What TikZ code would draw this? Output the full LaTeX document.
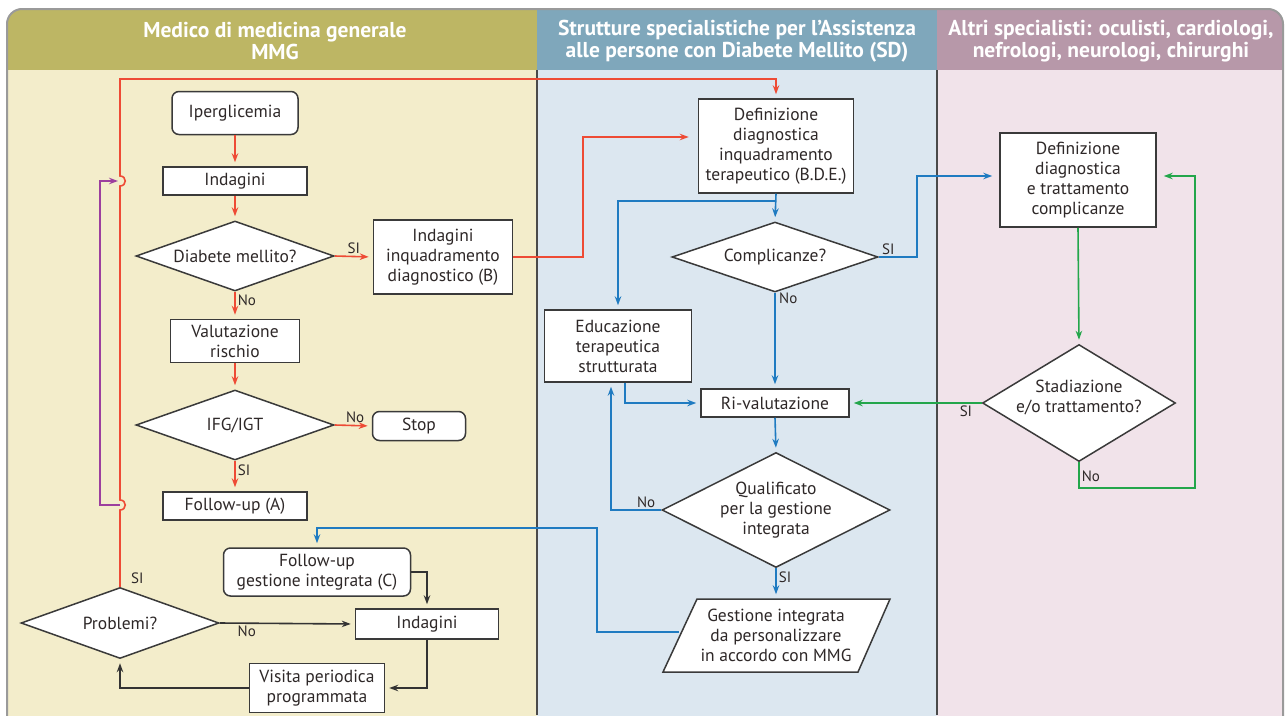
\documentclass[tikz,border=0pt]{standalone}
\usepackage{fontspec}
\setmainfont{PT Sans}
\newfontfamily\hdfont{PT Sans}
\usetikzlibrary{arrows.meta,shapes.geometric,calc}
\definecolor{hdA}{HTML}{BDB664}
\definecolor{bdA}{HTML}{F3EDCB}
\definecolor{hdB}{HTML}{7FA7BB}
\definecolor{bdB}{HTML}{DCE7F0}
\definecolor{hdC}{HTML}{B798A9}
\definecolor{bdC}{HTML}{F1E3EA}
\definecolor{frm}{HTML}{9A9A9A}
\definecolor{dvd}{HTML}{4A4A4A}
\definecolor{bxl}{HTML}{3A3A3A}
\definecolor{txt}{HTML}{2E2828}
\definecolor{lnred}{HTML}{EE4B35}
\definecolor{lnblue}{HTML}{1F7BC1}
\definecolor{lngreen}{HTML}{23A64B}
\definecolor{lnpurp}{HTML}{9C3F9E}
\definecolor{lnblack}{HTML}{333333}
\newcommand\boxfont{\fontsize{17.5}{20}\selectfont}
\newcommand\labfont{\fontsize{15}{17}\selectfont}
\newcommand\hdrfont{\hdfont\bfseries\fontsize{21.5}{22}\selectfont}
\begin{document}
\begin{tikzpicture}[x=1pt,y=-1pt,
  bx/.style={draw=bxl, fill=white, line width=1.5pt, text=txt, align=center, font=\boxfont, inner sep=1pt},
  rbx/.style={bx, rounded corners=7pt},
  dia/.style={diamond, draw=bxl, fill=white, line width=1.5pt, inner sep=0pt},
  dtext/.style={text=txt, align=center, font=\boxfont},
  lab/.style={text=txt, font=\labfont, inner sep=2pt},
  hdr/.style={text=white, align=center, font=\hdrfont},
  arr/.style={line width=1.6pt, -{Stealth[length=9pt,width=6.5pt]}, shorten >=4pt},
  cred/.style={draw=lnred, color=lnred},
  cblue/.style={draw=lnblue, color=lnblue},
  cgreen/.style={draw=lngreen, color=lngreen},
  cpurp/.style={draw=lnpurp, color=lnpurp},
  cblack/.style={draw=lnblack, color=lnblack}
]
\useasboundingbox (0,0) rectangle (1287,715);
% backgrounds
\begin{scope}
\clip[rounded corners=15pt] (7,9) rectangle (1283,760);
\fill[bdA] (7,70) rectangle (537,760);
\fill[bdB] (537,70) rectangle (937,760);
\fill[bdC] (937,70) rectangle (1283,760);
\fill[hdA] (7,9) rectangle (537,70);
\fill[hdB] (537,9) rectangle (937,70);
\fill[hdC] (937,9) rectangle (1283,70);
\end{scope}
\draw[frm, line width=2pt, rounded corners=15pt] (7,760) -- (7,9) -- (1283,9) -- (1283,760);
\draw[dvd, line width=1.6pt] (537,70) -- (537,715);
\draw[dvd, line width=1.6pt] (937,70) -- (937,715);
% headers
\node[hdr] (h1) at (275,41) {Medico di medicina generale\\MMG};
\node[hdr] (h2) at (737,41) {Strutture specialistiche per l’Assistenza\\alle persone con Diabete Mellito (SD)};
\node[hdr] (h3) at (1111,41) {Altri specialisti: oculisti, cardiologi,\\nefrologi, neurologi, chirurghi};
% left column nodes
\node[rbx, minimum width=126pt, minimum height=43pt] (ip) at (235,113) {Iperglicemia};
\node[bx, minimum width=144pt, minimum height=28pt] (ind1) at (235,181) {Indagini};
\node[dia, minimum width=198pt, minimum height=70pt, label={[dtext]center:Diabete mellito?}] (dm) at (235,256) {};
\node[bx, minimum width=139pt, minimum height=74pt] (B) at (443,257) {Indagini\\inquadramento\\diagnostico (B)};
\node[bx, minimum width=129pt, minimum height=43pt] (vr) at (235,341) {Valutazione\\rischio};
\node[dia, minimum width=198pt, minimum height=70pt, label={[dtext]center:IFG/IGT}] (ifg) at (235,425) {};
\node[rbx, minimum width=93pt, minimum height=29pt] (stop) at (419,426) {Stop};
\node[bx, minimum width=144pt, minimum height=28pt] (fa) at (235,506) {Follow-up (A)};
\node[rbx, minimum width=187pt, minimum height=48pt] (fc) at (317,572) {Follow-up\\gestione integrata (C)};
\node[dia, minimum width=198pt, minimum height=71pt, label={[dtext]center:Problemi?}] (pr) at (120,623) {};
\node[bx, minimum width=143pt, minimum height=30pt] (ind2) at (427,624) {Indagini};
\node[bx, minimum width=135pt, minimum height=49pt] (vis) at (317,688) {Visita periodica\\programmata};
% middle column nodes
\node[bx, minimum width=155pt, minimum height=94pt] (def) at (776,146) {Definizione\\diagnostica\\inquadramento\\terapeutico (B.D.E.)};
\node[dia, minimum width=206pt, minimum height=70pt, label={[dtext]center:Complicanze?}] (comp) at (775,257) {};
\node[bx, minimum width=147pt, minimum height=72pt] (edu) at (618,346) {Educazione\\terapeutica\\strutturata};
\node[bx, minimum width=148pt, minimum height=28pt] (rv) at (775,403) {Ri-valutazione};
\node[dia, minimum width=228pt, minimum height=115pt, label={[dtext]center:{Qualificato\\per la gestione\\integrata}}] (qual) at (776,510) {};
\filldraw[draw=bxl, fill=white, line width=1.5pt] (663,672) -- (697,599) -- (890,599) -- (858,672) -- cycle;
\node[dtext, minimum width=194pt, minimum height=73pt] (gi) at (776,635) {Gestione integrata\\da personalizzare\\in accordo con MMG};
% right column nodes
\node[bx, minimum width=156pt, minimum height=94pt] (dt) at (1078,180) {Definizione\\diagnostica\\e trattamento\\complicanze};
\node[dia, minimum width=193pt, minimum height=117pt, label={[dtext, yshift=6pt]center:{Stadiazione\\e/o trattamento?}}] (sd) at (1079,403) {};
% red connectors
\draw[arr, cred] (ip.south) -- (ind1.north);
\draw[arr, cred] (ind1.south) -- (dm.north);
\draw[arr, cred] (dm.east) -- node[lab, above, pos=0.5] {SI} (B.west);
\draw[arr, cred] (dm.south) -- node[lab, right, pos=0.3] {No} (vr.north);
\draw[arr, cred] (vr.south) -- (ifg.north);
\draw[arr, cred] (ifg.east) -- node[lab, above, pos=0.55] {No} (stop.west);
\draw[arr, cred] (ifg.south) -- node[lab, right, pos=0.3] {SI} (fa.north);
\draw[arr, cred, shorten >=9pt] (B.east) -- (583,257) |- ([yshift=9pt]def.west);
\draw[arr, cred] (pr.north) -- (120,510) .. controls (127,510) and (127,500) .. (120,500)
   -- (120,186) .. controls (127,186) and (127,176) .. (120,176) -- (120,79) -| (def.north);
\node[lab, anchor=south west] at ([xshift=9pt,yshift=1pt]pr.north) {SI};
% purple connector
\coordinate (pu1) at (120,505);
\coordinate (pu2) at (122,181);
\draw[arr, cpurp] (pu1) -- (100,505) -- (100,181) -- (pu2);
% blue connectors
\draw[arr, cblue] (def.south) -- (comp.north);
\draw[arr, cblue] ([yshift=-7pt]def.south) -| (edu.north);
\draw[arr, cblue, shorten >=7pt] (comp.east) -- node[lab, above, pos=0.25] {SI} (917,257) |- ([yshift=4pt]dt.west);
\draw[arr, cblue] (comp.south) -- (rv.north);
\node[lab, anchor=north west] at ([xshift=2pt,yshift=2pt]comp.south) {No};
\draw[arr, cblue] ([xshift=7pt]edu.south) |- (rv.west);
\draw[arr, cblue] (qual.west) -- node[lab, above, pos=0.3] {No} (611,510) -- ([xshift=-7pt]edu.south);
\draw[arr, cblue] (rv.south) -- (qual.north);
\draw[arr, cblue] (qual.south) -- node[lab, right, pos=0.3] {SI} (gi.north);
\draw[arr, cblue] ([yshift=3pt]gi.west) -| (597,528) -| (fc.north);
% green connectors
\draw[arr, cgreen] (dt.south) -- (sd.north);
\draw[arr, cgreen] (sd.west) -- node[lab, below, pos=0.12] {SI} (rv.east);
\draw[arr, cgreen, shorten >=7pt] (sd.south) -- node[lab, right, pos=0.55] {No} (1079,488) -| (1195,176) -- ([yshift=4pt]dt.east);
% black connectors
\draw[arr, cblack] (fc.east) -| (ind2.north);
\draw[arr, cblack] (pr.east) -- node[lab, below, pos=0.2] {No} (ind2.west);
\draw[arr, cblack] (ind2.south) |- (vis.east);
\draw[arr, cblack] (vis.west) -| (pr.south);
\end{tikzpicture}
\end{document}
